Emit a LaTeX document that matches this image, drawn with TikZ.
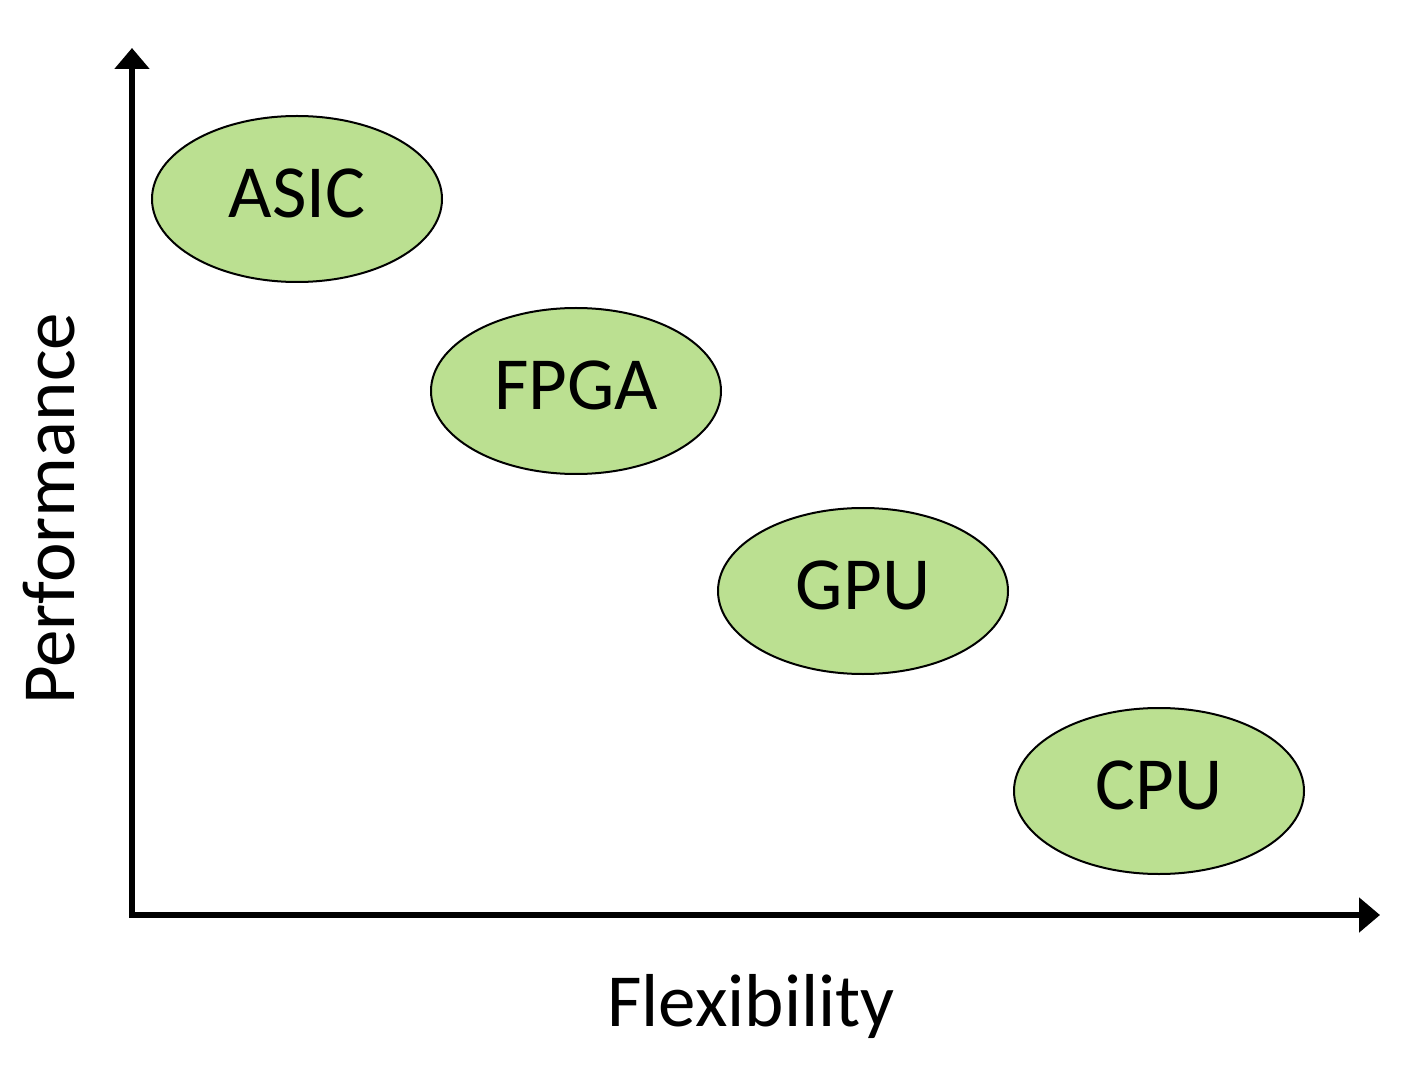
\documentclass[tikz,border=0pt]{standalone}
\usepackage{fontspec}
\setmainfont{Carlito}
\usetikzlibrary{arrows.meta,shapes.geometric}
\definecolor{chipgreen}{RGB}{187,224,145}
\tikzset{
  chip/.style={ellipse, draw=black, line width=1pt, fill=chipgreen,
    minimum width=145pt, minimum height=83pt, inner sep=0pt,
    text depth=6pt, font=\fontsize{37.5}{42}\selectfont},
  axislabel/.style={font=\fontsize{37.5}{42}\selectfont, inner sep=0pt},
  axis/.style={line width=3pt, line join=miter,
    {Triangle[length=10.5pt,width=17pt]}-{Triangle[length=10.5pt,width=17pt]}}
}
\begin{document}
\begin{tikzpicture}[x=0.5pt,y=-0.5pt]
\useasboundingbox (0,0) rectangle (1419,1080);
\fill[white] (0,0) rectangle (1419,1080);
\coordinate (ytip) at (132,48);
\coordinate (origin) at (132,915);
\coordinate (xtip) at (1380,915);
\draw[axis] (ytip) -- (origin) -- (xtip);
\node[chip] (asic) at (297,199) {ASIC};
\node[chip] (fpga) at (576,391) {FPGA};
\node[chip] (gpu) at (863,591) {GPU};
\node[chip] (cpu) at (1159,791) {CPU};
\node[axislabel, rotate=90] (perf) at (49,509) {Performance};
\node[axislabel] (flex) at (751,1006) {Flexibility};
\end{tikzpicture}
\end{document}
